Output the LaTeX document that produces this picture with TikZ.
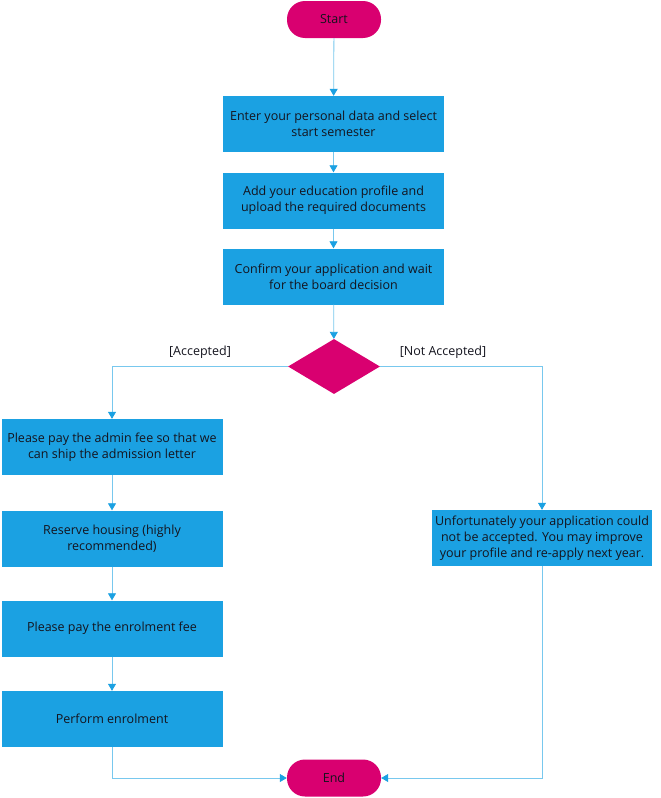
\documentclass[tikz,border=0pt]{standalone}
\usepackage{fontspec}
\setmainfont{Open Sans}
\usetikzlibrary{arrows.meta,shapes.geometric}
\definecolor{pinkc}{RGB}{217,0,112}
\definecolor{bluec}{RGB}{27,161,226}
\definecolor{linec}{RGB}{120,200,238}
\definecolor{txtc}{RGB}{20,20,30}
\begin{document}
\begin{tikzpicture}[x=1pt,y=-1pt,
  proc/.style={fill=bluec, minimum width=221pt, minimum height=56pt, align=center, inner sep=0pt, text=txtc, font=\fontsize{12.5}{16}\selectfont},
  term/.style={fill=pinkc, rounded corners=18pt, minimum width=94pt, minimum height=37pt, inner sep=0pt, text=txtc, font=\fontsize{12.5}{16}\selectfont},
  dec/.style={diamond, fill=pinkc, minimum width=92pt, minimum height=55pt, inner sep=0pt},
  lab/.style={text=txtc, font=\fontsize{12.5}{16}\selectfont},
  conn/.style={draw=linec, line width=0.8pt, -{Triangle[width=8pt,length=7pt,color=bluec]}}
]
\fill[white] (0,0) rectangle (661,798);
\useasboundingbox (0,0) rectangle (661,798);
\node[term] (start) at (334,19.5) {Start};
\node[proc] (b1) at (333.5,124) {Enter your personal data and select\\start semester};
\node[proc] (b2) at (333.5,200.5) {Add your education profile and\\upload the required documents};
\node[proc] (b3) at (333.5,276.5) {Confirm your application and wait\\for the board decision};
\node[dec] (d) at (334,366.5) {};
\node[proc] (b4) at (112,447) {Please pay the admin fee so that we\\can ship the admission letter};
\node[proc] (b5) at (112,538.5) {Reserve housing (highly\\recommended)};
\node[proc] (b6) at (112,628.5) {Please pay the enrolment fee};
\node[proc] (b7) at (112,719) {Perform enrolment};
\node[proc, minimum width=220pt] (b8) at (542,538) {Unfortunately your application could\\not be accepted. You may improve\\your profile and re-apply next year.};
\node[term] (end) at (334,778) {End};
\node[lab] (la) at (200,352) {[Accepted]};
\node[lab] (lna) at (443,352) {[Not Accepted]};
\draw[conn] (start) -- (b1);
\draw[conn] (b1) -- (b2);
\draw[conn] (b2) -- (b3);
\draw[conn] (b3) -- (d);
\draw[conn] (d.west) -| (b4.north);
\draw[conn] (d.east) -| (b8.north);
\draw[conn] (b4) -- (b5);
\draw[conn] (b5) -- (b6);
\draw[conn] (b6) -- (b7);
\draw[conn] (b7.south) |- (end.west);
\draw[conn] (b8.south) |- (end.east);
\end{tikzpicture}
\end{document}
